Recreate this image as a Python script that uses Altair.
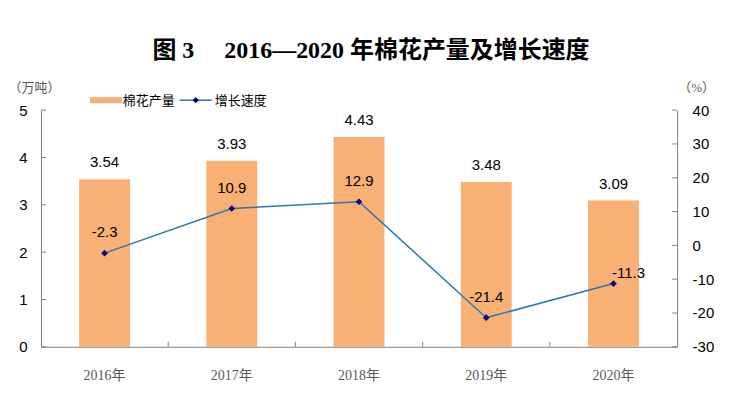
import altair as alt
import pandas as pd

years = ["2016年", "2017年", "2018年", "2019年", "2020年"]
output = [3.54, 3.93, 4.43, 3.48, 3.09]
growth = [-2.3, 10.9, 12.9, -21.4, -11.3]
left_ticks = [0, 1, 2, 3, 4, 5]
right_ticks = [-30, -20, -10, 0, 10, 20, 30, 40]

df = pd.DataFrame({"year": years, "output": output, "growth": growth})
lt_df = pd.DataFrame({"output": left_ticks})
rt_df = pd.DataFrame({"growth": right_ticks})

W, H = 637, 237
BAR = "#F8B074"
LINE = "#2E75B6"
MARK = "#000080"
AX = "#7f7f7f"
SANS = "Liberation Sans"
SERIF = "Liberation Serif, Noto Sans CJK SC"
CJK = "Noto Sans CJK SC"
P_IN = 0.6
HALF_GAP = -(W / 5) * P_IN / 2

xscale = alt.Scale(paddingInner=P_IN, paddingOuter=P_IN / 2)
xaxis = alt.Axis(title=None, labelAngle=0, ticks=False, labelPadding=22,
                 labelFont=SERIF, labelFontSize=14, labelColor="#595959",
                 domainColor=AX, domainWidth=1)
xenc = alt.X("year:N", sort=years, scale=xscale, axis=xaxis)

yleft = alt.Y("output:Q", scale=alt.Scale(domain=[0, 5], nice=False),
              axis=alt.Axis(values=left_ticks, orient="left", grid=False, ticks=False,
                            labelOverlap=False,
                            labelPadding=14, labelFont=SANS, labelFontSize=15,
                            labelColor="#000000", domainColor=AX,
                            title="（万吨）", titleAngle=0, titleX=-7, titleY=-23,
                            titleAlign="center", titleBaseline="middle",
                            titleFont=SERIF, titleFontSize=13, titleFontWeight="normal",
                            titleColor="#595959"))

yright = alt.Y("growth:Q", scale=alt.Scale(domain=[-30, 40], nice=False),
               axis=alt.Axis(values=right_ticks, orient="right", grid=False, ticks=False,
                             labelOverlap=False,
                             labelPadding=15, labelFont=SANS, labelFontSize=15,
                             labelColor="#000000", domainColor=AX,
                             labelExpr="toString(datum.value)",
                             title="（%）", titleAngle=0, titleX=19, titleY=-23,
                             titleAlign="center", titleBaseline="middle",
                             titleFont=SERIF, titleFontSize=13, titleFontWeight="normal",
                             titleColor="#595959"))

base = alt.Chart(df)

bars = base.mark_bar(color=BAR).encode(x=xenc, y=yleft)
bar_text = base.mark_text(baseline="bottom", dy=-9, font=SANS, fontSize=15,
                          color="#000000").encode(x=xenc, y=yleft,
                                                  text=alt.Text("output:Q", format=".2f"))
lticks = alt.Chart(lt_df).mark_rule(color=AX).encode(
    y=yleft, x=alt.value(0), x2=alt.value(5))
xticks = base.transform_filter(alt.datum.year != years[0]).mark_rule(
    color=AX, xOffset=HALF_GAP).encode(
    x=alt.X("year:N", sort=years, bandPosition=0, scale=xscale, axis=xaxis),
    y=alt.value(H - 5), y2=alt.value(H))
left = alt.layer(bars, bar_text, lticks, xticks)

line = base.mark_line(color=LINE, strokeWidth=1.5).encode(x=xenc, y=yright)
pts = base.mark_point(shape="diamond", filled=True, color=MARK, size=45, opacity=1).encode(
    x=xenc, y=yright)
glabel = "toString(datum.growth)"
gtext_main = base.transform_filter(alt.datum.year != years[-1]).transform_calculate(
    lab=glabel).mark_text(
    baseline="bottom", dy=-13, font=SANS, fontSize=15, color="#000000"
).encode(x=xenc, y=yright, text="lab:N")
gtext_last = base.transform_filter(alt.datum.year == years[-1]).transform_calculate(
    lab=glabel).mark_text(
    baseline="bottom", dy=-3, dx=15, font=SANS, fontSize=15, color="#000000"
).encode(x=xenc, y=yright, text="lab:N")
rticks = alt.Chart(rt_df).mark_rule(color=AX).encode(
    y=yright, x=alt.value(W - 5), x2=alt.value(W))
right = alt.layer(line, pts, gtext_main, gtext_last, rticks)

# legend (drawn manually)
leg = alt.Chart(pd.DataFrame({"k": [0]}))
leg_bar = leg.mark_rule(color=BAR, strokeWidth=6).encode(
    x=alt.value(49), x2=alt.value(81), y=alt.value(-10))
leg_bar_t = leg.mark_text(align="left", baseline="middle", font=CJK,
                          fontSize=13, color="#000000").encode(
    x=alt.value(82), y=alt.value(-9), text=alt.value("棉花产量"))
leg_line = leg.mark_rule(color=LINE, strokeWidth=1.5).encode(
    x=alt.value(139), x2=alt.value(171), y=alt.value(-10))
leg_pt = leg.mark_point(shape="diamond", filled=True, color=MARK, size=40, opacity=1).encode(
    x=alt.value(155), y=alt.value(-10))
leg_line_t = leg.mark_text(align="left", baseline="middle", font=CJK,
                           fontSize=13, color="#000000").encode(
    x=alt.value(174), y=alt.value(-9), text=alt.value("增长速度"))
legend = alt.layer(leg_bar, leg_bar_t, leg_line, leg_pt, leg_line_t)

chart = alt.layer(left, right, legend).resolve_scale(y="independent").properties(
    width=W, height=H,
    title=alt.TitleParams("图 3　 2016—2020 年棉花产量及增长速度", font=SERIF, fontSize=24,
                          fontWeight="bold", color="#000000", anchor="middle", dx=12,
                          offset=18),
    autosize=alt.AutoSizeParams(type="none"),
    padding={"left": 33, "top": 102, "right": 64, "bottom": 43},
).configure_view(stroke=None)

chart.save("out.html", embed_options={"renderer": "svg", "actions": False})
